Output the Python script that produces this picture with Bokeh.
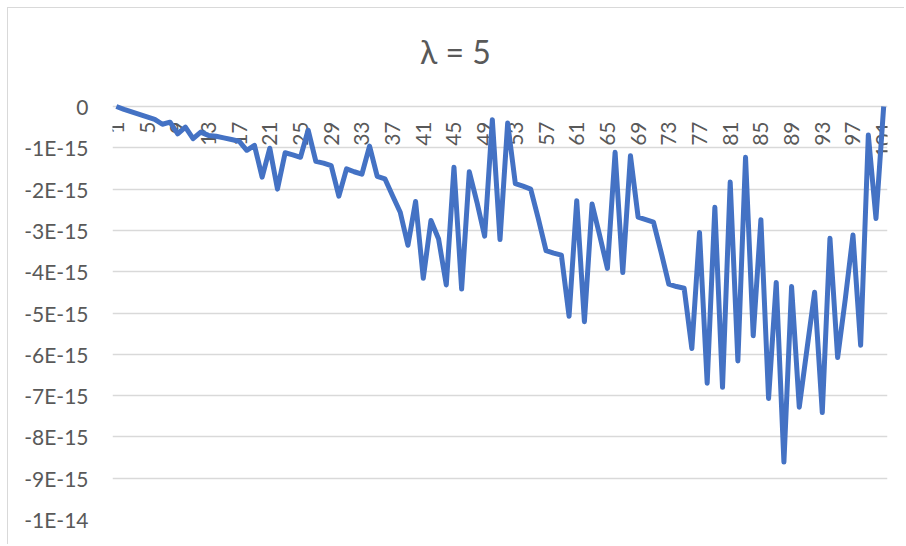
from math import pi
from bokeh.plotting import figure
from bokeh.models import Range1d, FixedTicker, CustomJSTickFormatter, ColumnDataSource, Label
from bokeh.core.properties import value
from bokeh.embed import file_html
from bokeh.resources import INLINE

title_text = "λ = 5"

categories = list(range(1, 102))

# series values in units of 1E-15
values_e15 = [
    0.00, -0.07, -0.13, -0.19, -0.25, -0.31, -0.43, -0.38, -0.66, -0.50,
    -0.78, -0.62, -0.70, -0.72, -0.76, -0.80, -0.84, -1.06, -0.94, -1.71,
    -1.01, -2.00, -1.12, -1.17, -1.23, -0.57, -1.33, -1.37, -1.43, -2.17,
    -1.51, -1.58, -1.64, -0.96, -1.69, -1.75, -2.16, -2.56, -3.36, -2.30,
    -4.16, -2.76, -3.21, -4.32, -1.47, -4.42, -1.58, -2.32, -3.14, -0.32,
    -3.22, -0.40, -1.87, -1.93, -2.00, -2.72, -3.49, -3.55, -3.60, -5.08,
    -2.28, -5.21, -2.36, -3.13, -3.92, -1.11, -4.02, -1.19, -2.68, -2.74,
    -2.80, -3.53, -4.30, -4.36, -4.40, -5.86, -3.05, -6.70, -2.44, -6.80,
    -1.83, -6.16, -1.23, -5.55, -2.74, -7.07, -4.26, -8.61, -4.36, -7.28,
    -5.88, -4.50, -7.41, -3.19, -6.08, -4.66, -3.11, -5.78, -0.69, -2.71,
    0.00,
]
UNIT = 1e-15

x_label_positions = [1, 5, 9, 13, 17, 21, 25, 29, 33, 37, 41, 45, 49, 53,
                     57, 61, 65, 69, 73, 77, 81, 85, 89, 93, 97, 101]
x_labels = ["1", "5", "9", "13", "17", "21", "25", "29", "33", "37", "41",
            "45", "49", "53", "57", "61", "65", "69", "73", "77", "81", "85",
            "89", "93", "97", "101"]

y_tick_values = [0.0, -1e-15, -2e-15, -3e-15, -4e-15, -5e-15, -6e-15,
                 -7e-15, -8e-15, -9e-15, -1e-14]
y_tick_labels = ["0", "-1E-15", "-2E-15", "-3E-15", "-4E-15", "-5E-15",
                 "-6E-15", "-7E-15", "-8E-15", "-9E-15", "-1E-14"]

FONT = "Lato"
GREY = "#595959"

# layout (pixels)
W, H = 897, 537
LEFT, RIGHT, BOTTOM = 104, 18, 26
ZERO_FROM_TOP = 98          # pixel distance from figure top to the 0 gridline
frame_h = H - BOTTOM        # frame spans from figure top down to the bottom border
y_min = -1e-14
# the frame extends above 0 so that the title sits inside it
y_max = -y_min * ZERO_FROM_TOP / (frame_h - ZERO_FROM_TOP)

p = figure(width=W, height=H, output_backend="svg", toolbar_location=None,
           title=None,
           x_range=Range1d(0.5, 101.5), y_range=Range1d(y_min, y_max),
           min_border_left=LEFT, min_border_right=RIGHT, min_border_top=0,
           min_border_bottom=BOTTOM)

p.styles = {"margin-left": "7px", "margin-top": "7px",
            "border-left": "1px solid #d9d9d9", "border-top": "1px solid #d9d9d9"}

# chart title, in screen units relative to the plot frame (bottom-left origin)
p.add_layout(Label(x=343, y=frame_h - 43, x_units="screen", y_units="screen",
                   text=title_text, text_align="center", text_baseline="middle",
                   text_font=FONT, text_font_size="32px", text_color=GREY))

p.outline_line_color = None
p.xgrid.visible = False
p.xaxis.visible = False
p.ygrid.grid_line_color = "#d9d9d9"
p.ygrid.grid_line_width = 1.5

p.yaxis.ticker = FixedTicker(ticks=y_tick_values)
p.yaxis.formatter = CustomJSTickFormatter(
    args=dict(vals=y_tick_values, labs=y_tick_labels),
    code="""
    let best = 0, bd = Infinity;
    for (let i = 0; i < vals.length; i++) {
        const d = Math.abs(vals[i] - tick);
        if (d < bd) { bd = d; best = i; }
    }
    return labs[best];
    """)
p.yaxis.axis_line_color = None
p.yaxis.major_tick_line_color = None
p.yaxis.minor_tick_line_color = None
p.yaxis.major_label_standoff = 18
p.yaxis.major_label_text_font = FONT
p.yaxis.major_label_text_font_size = "21px"
p.yaxis.major_label_text_color = GREY

lab_src = ColumnDataSource(dict(x=x_label_positions,
                                y=[0.0] * len(x_label_positions),
                                text=x_labels))
p.text(x="x", y="y", text="text", source=lab_src, angle=pi / 2,
       text_align="right", text_baseline="middle", y_offset=15,
       text_font=value(FONT), text_font_size="21px", text_color=GREY)

src = ColumnDataSource(dict(x=categories, y=[v * UNIT for v in values_e15]))
p.line(x="x", y="y", source=src, line_color="#4472C4", line_width=5,
       line_join="round")

open("out.html", "w").write(file_html(p, INLINE))
